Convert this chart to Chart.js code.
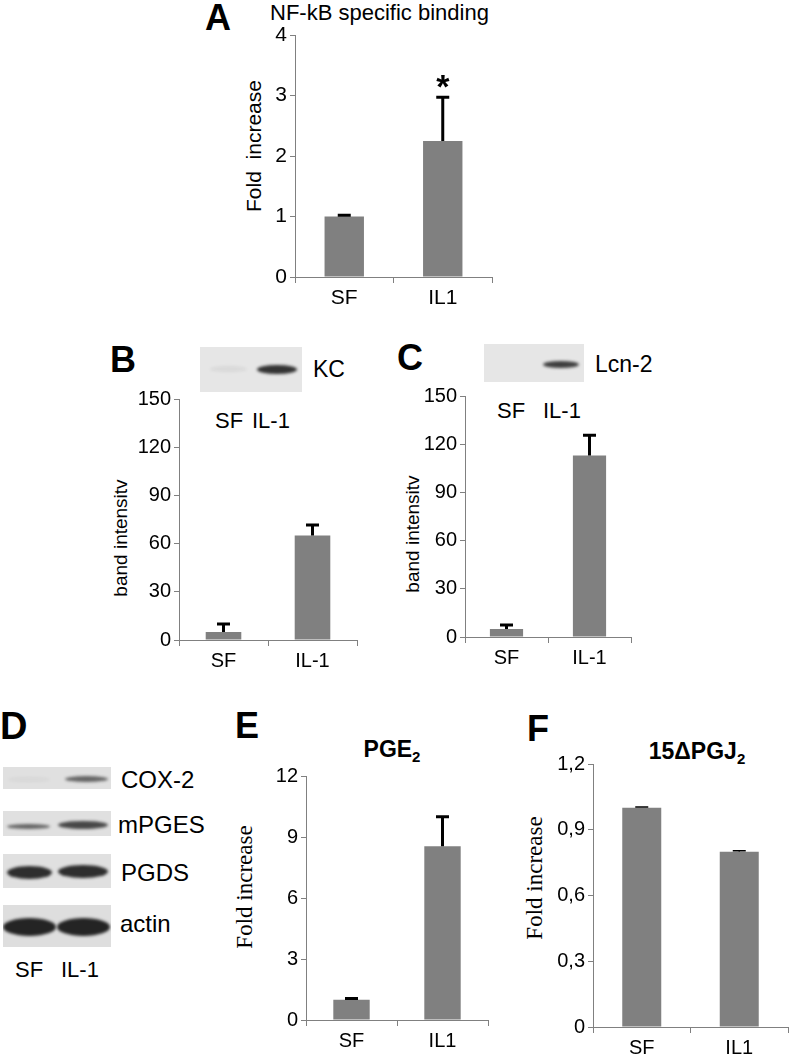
<!DOCTYPE html>
<html>
<head>
<meta charset="utf-8">
<script src="https://cdn.jsdelivr.net/npm/chart.js@4.4.0/dist/chart.umd.min.js"></script>
<style>
	body { margin: 0; background: #fff; width: 792px; height: 1062px; position: relative; overflow: hidden; font-family: "Liberation Sans", Arial, sans-serif; color: #000; }
	.letter { position: absolute; font-weight: bold; font-size: 36px; line-height: 1; }
	.lbl { position: absolute; font-size: 22px; line-height: 1; white-space: nowrap; }
	.title { position: absolute; font-weight: bold; font-size: 23px; line-height: 1; white-space: nowrap; transform: translateX(-50%); }
	.title sub { font-size: 15px; vertical-align: -5px; }
	.ytitle { position: absolute; line-height: 1; white-space: nowrap; transform: translate(-50%, -50%) rotate(-90deg); }
	.blot { position: absolute; background: #e3e3e3; overflow: hidden; }
	.band { position: absolute; border-radius: 50%; filter: blur(1.6px); }
	canvas { position: absolute; }
</style>
</head>
<body>
<div class="letter" style="left:205px;top:0px;">A</div>
<div class="lbl" style="left:270px;top:2px;">NF-kB specific binding</div>
<div class="ytitle" style="left:253px;top:146px;font-size:21px;">Fold&nbsp;&nbsp;increase</div>

<div class="letter" style="left:110px;top:342px;">B</div>
<div class="lbl" style="left:313px;top:358px;font-size:23px;">KC</div>
<div class="lbl" style="left:215px;top:410px;">SF</div>
<div class="lbl" style="left:252px;top:410px;">IL-1</div>
<div class="ytitle" style="left:120px;top:538px;font-size:19px;">band intensitv</div>

<div class="letter" style="left:397px;top:340px;">C</div>
<div class="lbl" style="left:595px;top:353px;font-size:23px;">Lcn-2</div>
<div class="lbl" style="left:497px;top:400px;">SF</div>
<div class="lbl" style="left:543px;top:400px;">IL-1</div>
<div class="ytitle" style="left:412px;top:534px;font-size:19px;">band intensitv</div>

<div class="letter" style="left:0px;top:707px;font-size:38px;">D</div>
<div class="lbl" style="left:121px;top:768px;font-size:24px;">COX-2</div>
<div class="lbl" style="left:118px;top:813px;font-size:24px;">mPGES</div>
<div class="lbl" style="left:121px;top:861px;font-size:24px;">PGDS</div>
<div class="lbl" style="left:120px;top:912px;font-size:24px;">actin</div>
<div class="lbl" style="left:15px;top:959px;">SF</div>
<div class="lbl" style="left:61px;top:959px;">IL-1</div>

<div class="letter" style="left:235px;top:708px;">E</div>
<div class="title" style="left:392px;top:738px;">PGE<sub>2</sub></div>
<div class="ytitle" style="left:244px;top:887px;font-size:23px;font-family:'Liberation Serif',serif;">Fold increase</div>

<div class="letter" style="left:527px;top:711px;">F</div>
<div class="title" style="left:697px;top:740px;">15ΔPGJ<sub>2</sub></div>
<div class="ytitle" style="left:534px;top:878px;font-size:23px;font-family:'Liberation Serif',serif;">Fold increase</div>

<canvas id="chartA"></canvas>
<canvas id="chartB"></canvas>
<canvas id="chartC"></canvas>
<canvas id="chartE"></canvas>
<canvas id="chartF"></canvas>

<script>
// categories
const groups = ['SF', 'IL1'];
const groupsIL = ['SF', 'IL-1'];

// A - NF-kB specific binding
const nfkbMean = [1.0, 2.25];
const nfkbErr = [0.02, 0.72];
const nfkbSig = ['', '*'];
const ticksA = [0, 1, 2, 3, 4];
const tickLabelsA = ['0', '1', '2', '3', '4'];

// B - KC band intensity
const kcMean = [5, 65];
const kcErr = [5, 6.5];
// C - Lcn-2 band intensity
const lcnMean = [5, 113];
const lcnErr = [2.5, 12.5];
const ticksBC = [0, 30, 60, 90, 120, 150];
const tickLabelsBC = ['0', '30', '60', '90', '120', '150'];

// E - PGE2
const pge2Mean = [1.0, 8.55];
const pge2Err = [0.06, 1.45];
const ticksE = [0, 3, 6, 9, 12];
const tickLabelsE = ['0', '3', '6', '9', '12'];

// F - 15dPGJ2
const pgjMean = [1.0, 0.80];
const pgjErr = [0.004, 0.004];
const ticksF = [0, 0.3, 0.6, 0.9, 1.2];
const tickLabelsF = ['0', '0,3', '0,6', '0,9', '1,2'];

const axisGray = '#808080';

const errorBars = {
	id: 'errorBars',
	afterDatasetsDraw(chart, args, opts) {
		const ctx = chart.ctx;
		const yScale = chart.scales.y;
		chart.data.datasets.forEach((ds, di) => {
			chart.getDatasetMeta(di).data.forEach((bar, i) => {
				const top = yScale.getPixelForValue(ds.data[i] + ds.err[i]);
				ctx.save();
				ctx.strokeStyle = '#000';
				ctx.lineWidth = opts.width;
				ctx.beginPath();
				ctx.moveTo(bar.x, bar.y);
				ctx.lineTo(bar.x, top);
				ctx.moveTo(bar.x - opts.cap / 2, top);
				ctx.lineTo(bar.x + opts.cap / 2, top);
				ctx.stroke();
				if (ds.sig && ds.sig[i]) {
					ctx.fillStyle = '#000';
					ctx.font = 'bold 34px "Liberation Sans"';
					ctx.textAlign = 'center';
					ctx.textBaseline = 'alphabetic';
					ctx.fillText(ds.sig[i], bar.x, top + 1);
				}
				ctx.restore();
			});
		});
	}
};

function barChart(id, area, cfg) {
	const canvas = document.getElementById(id);
	const padTop = 16, padRight = 8;
	const w = area.right - area.left + cfg.yWidth + padRight;
	const h = area.bottom - area.top + padTop + cfg.xHeight;
	canvas.style.left = (area.left - cfg.yWidth) + 'px';
	canvas.style.top = (area.top - padTop) + 'px';
	canvas.width = w;
	canvas.height = h;

	return new Chart(canvas, {
		type: 'bar',
		data: {
			labels: cfg.labels,
			datasets: [{
				data: cfg.mean,
				err: cfg.err,
				sig: cfg.sig,
				backgroundColor: '#808080',
				borderWidth: 0,
				categoryPercentage: 0.4,
				barPercentage: 1
			}]
		},
		options: {
			responsive: false,
			animation: false,
			layout: { padding: { top: padTop, right: padRight, left: 0, bottom: 0 } },
			plugins: {
				legend: { display: false },
				tooltip: { enabled: false },
				errorBars: { width: cfg.errWidth || 3, cap: 13 }
			},
			scales: {
				x: {
					grid: { offset: true, drawOnChartArea: false, tickLength: 6, color: axisGray },
					border: { color: axisGray },
					ticks: { color: '#000', font: { family: 'Liberation Sans', size: cfg.xFont }, padding: 3, maxRotation: 0, autoSkip: false },
					afterFit: s => { s.height = cfg.xHeight; }
				},
				y: {
					min: cfg.ticks[0],
					max: cfg.ticks[cfg.ticks.length - 1],
					afterBuildTicks: s => { s.ticks = cfg.ticks.map(v => ({ value: v })); },
					grid: { drawOnChartArea: false, tickLength: 5, color: axisGray },
					border: { color: axisGray },
					ticks: {
						color: '#000',
						font: { family: 'Liberation Sans', size: cfg.yFont },
						padding: 3,
						callback: (v, i) => cfg.tickLabels[i]
					},
					afterFit: s => { s.width = cfg.yWidth; }
				}
			}
		},
		plugins: [errorBars]
	});
}

barChart('chartA', { left: 295, right: 492, top: 35, bottom: 277 }, {
	labels: groups, mean: nfkbMean, err: nfkbErr, sig: nfkbSig,
	ticks: ticksA, tickLabels: tickLabelsA,
	yWidth: 50, xHeight: 40, xFont: 21, yFont: 21
});

barChart('chartB', { left: 179, right: 357, top: 399, bottom: 640 }, {
	labels: groupsIL, mean: kcMean, err: kcErr,
	ticks: ticksBC, tickLabels: tickLabelsBC,
	yWidth: 50, xHeight: 40, xFont: 20, yFont: 20
});

barChart('chartC', { left: 465, right: 631, top: 396, bottom: 637 }, {
	labels: groupsIL, mean: lcnMean, err: lcnErr,
	ticks: ticksBC, tickLabels: tickLabelsBC,
	yWidth: 50, xHeight: 40, xFont: 20, yFont: 20
});

barChart('chartE', { left: 306, right: 488, top: 776, bottom: 1020 }, {
	labels: groups, mean: pge2Mean, err: pge2Err,
	ticks: ticksE, tickLabels: tickLabelsE,
	yWidth: 50, xHeight: 40, xFont: 20, yFont: 20
});

barChart('chartF', { left: 593, right: 788, top: 764, bottom: 1027 }, {
	labels: groups, mean: pgjMean, err: pgjErr,
	ticks: ticksF, tickLabels: tickLabelsF,
	yWidth: 50, xHeight: 34, xFont: 20, yFont: 20, errWidth: 1.5
});

// western blot strips (pictures, not chart data)
function blot(x, y, w, h, bands, bg) {
	const box = document.createElement('div');
	box.className = 'blot';
	box.style.cssText = `left:${x}px;top:${y}px;width:${w}px;height:${h}px;background:${bg || '#e3e3e3'}`;
	bands.forEach(b => {
		const el = document.createElement('div');
		el.className = 'band';
		el.style.cssText = `left:${b[0] - x}px;top:${b[1] - y - b[3] / 2}px;width:${b[2]}px;height:${b[3]}px;background:rgba(20,20,20,${b[4]})`;
		box.appendChild(el);
	});
	document.body.appendChild(box);
}

blot(200, 347, 102, 45, [[210, 369, 37, 6, 0.06], [257, 369, 40, 9, 0.85]], '#e6e6e6');
blot(484, 344, 100, 38, [[543, 364, 36, 7, 0.8]], '#e6e6e6');
blot(3, 767, 108, 22, [[8, 779, 42, 5, 0.04], [65, 779, 43, 6, 0.6]], '#e0e0e0');
blot(3, 811, 108, 25, [[7, 826, 43, 5, 0.6], [58, 825, 50, 8, 0.75]], '#e0e0e0');
blot(3, 854, 108, 34, [[7, 872, 45, 13, 0.88], [58, 871, 50, 13, 0.88]], '#e0e0e0');
blot(3, 905, 108, 42, [[3, 927, 53, 18, 0.92], [57, 927, 53, 18, 0.92]], '#dedede');
</script>
</body>
</html>
